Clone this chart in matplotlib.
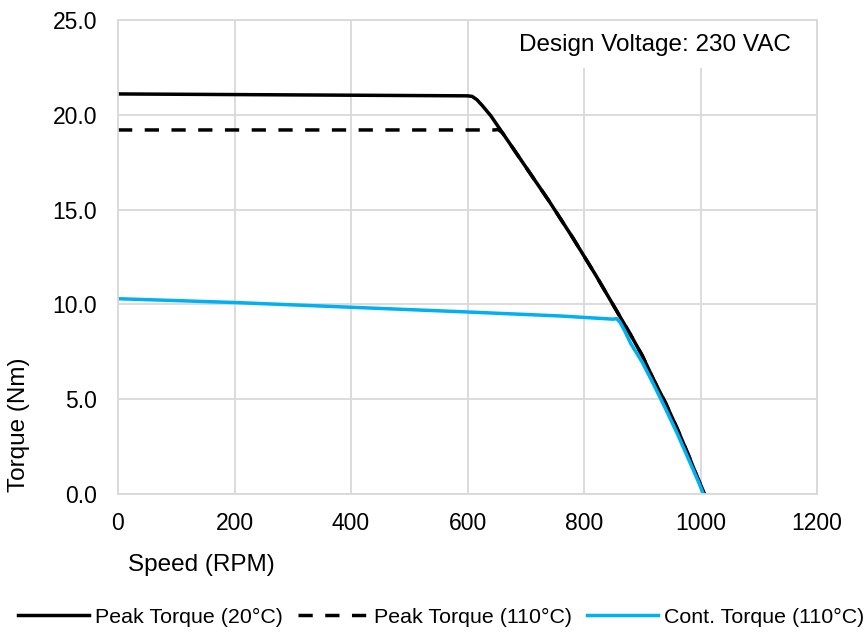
import matplotlib.pyplot as plt

plt.rcParams['font.family'] = ['Liberation Sans', 'DejaVu Sans']
plt.rcParams['font.size'] = 16.5

# Peak torque at 20 C
peak20_rpm = [0, 300, 600, 608, 616, 625, 640, 660, 680, 700, 720, 740, 760, 780, 800, 820, 840,
              860, 880, 900, 920, 940, 960, 980, 995, 1007]
peak20_nm = [21.1, 21.05, 21.0, 20.97, 20.8, 20.5, 19.95, 19.05, 18.15, 17.25, 16.35, 15.45, 14.5,
             13.55, 12.55, 11.55, 10.5, 9.45, 8.4, 7.3, 6.0, 4.8, 3.45, 2.0, 0.85, 0.0]

# Peak torque at 110 C
peak110_rpm = [0, 300, 645, 653, 660, 680, 700, 720, 740, 760, 780, 800, 820, 840,
               860, 880, 900, 920, 940, 960, 980, 995, 1007]
peak110_nm = [19.2, 19.2, 19.2, 19.22, 19.05, 18.15, 17.25, 16.35, 15.45, 14.5,
              13.55, 12.55, 11.55, 10.5, 9.45, 8.4, 7.3, 6.0, 4.8, 3.45, 2.0, 0.85, 0.0]

# Continuous torque at 110 C
cont_rpm = [0, 200, 400, 600, 759, 840, 850, 856, 862, 870, 880, 900, 920, 940, 960, 980, 995, 1005]
cont_nm = [10.3, 10.1, 9.85, 9.6, 9.39, 9.24, 9.22, 9.25, 9.05, 8.6, 7.95, 6.95, 5.75, 4.5,
           3.2, 1.8, 0.75, 0.0]

fig = plt.figure(figsize=(8.65, 6.33), dpi=100)
ax = fig.add_axes([118 / 865, 139 / 633, 699 / 865, 474 / 633])

ax.plot(peak20_rpm, peak20_nm, color='black', lw=2.5, label='Peak Torque (20°C)')
ax.plot(peak110_rpm, peak110_nm, color='black', lw=2.5, ls=(0, (4.1, 3.6)), label='Peak Torque (110°C)')
ax.plot(cont_rpm, cont_nm, color='#00B0F0', lw=2.5, label='Cont. Torque (110°C)')

ax.set_xlim(0, 1200)
ax.set_ylim(0, 25)
ax.set_xticks(range(0, 1201, 200))
ax.set_yticks([0, 5, 10, 15, 20, 25])
ax.set_yticklabels([f'{v:.1f}' for v in [0, 5, 10, 15, 20, 25]])
ax.grid(True, color='#D9D9D9', lw=1.3)
ax.set_axisbelow(True)
ax.tick_params(axis='y', length=0, pad=15)
ax.tick_params(axis='x', length=0, pad=13)
for s in ax.spines.values():
    s.set_color('#D9D9D9')
    s.set_linewidth(1.3)

ax.set_ylabel('Torque (Nm)', fontsize=17.5)
ax.yaxis.set_label_coords(-0.141, 0.147)
ax.yaxis.label.set_va('center')
ax.set_xlabel('Speed (RPM)', fontsize=17.5)
ax.xaxis.set_label_coords(0.014, -0.15)
ax.xaxis.label.set_ha('left')
ax.xaxis.label.set_va('center')

ax.text(0.962, 0.948, 'Design Voltage: 230 VAC', transform=ax.transAxes, ha='right', va='center',
        fontsize=17.5, bbox=dict(facecolor='white', edgecolor='none', pad=9))

fig.legend(loc='center', bbox_to_anchor=(441 / 865, 16 / 633), ncol=3, frameon=False, fontsize=15.4,
           handlelength=3.3, handletextpad=0.28, columnspacing=0.7)

fig.savefig('out.png', dpi=100)
